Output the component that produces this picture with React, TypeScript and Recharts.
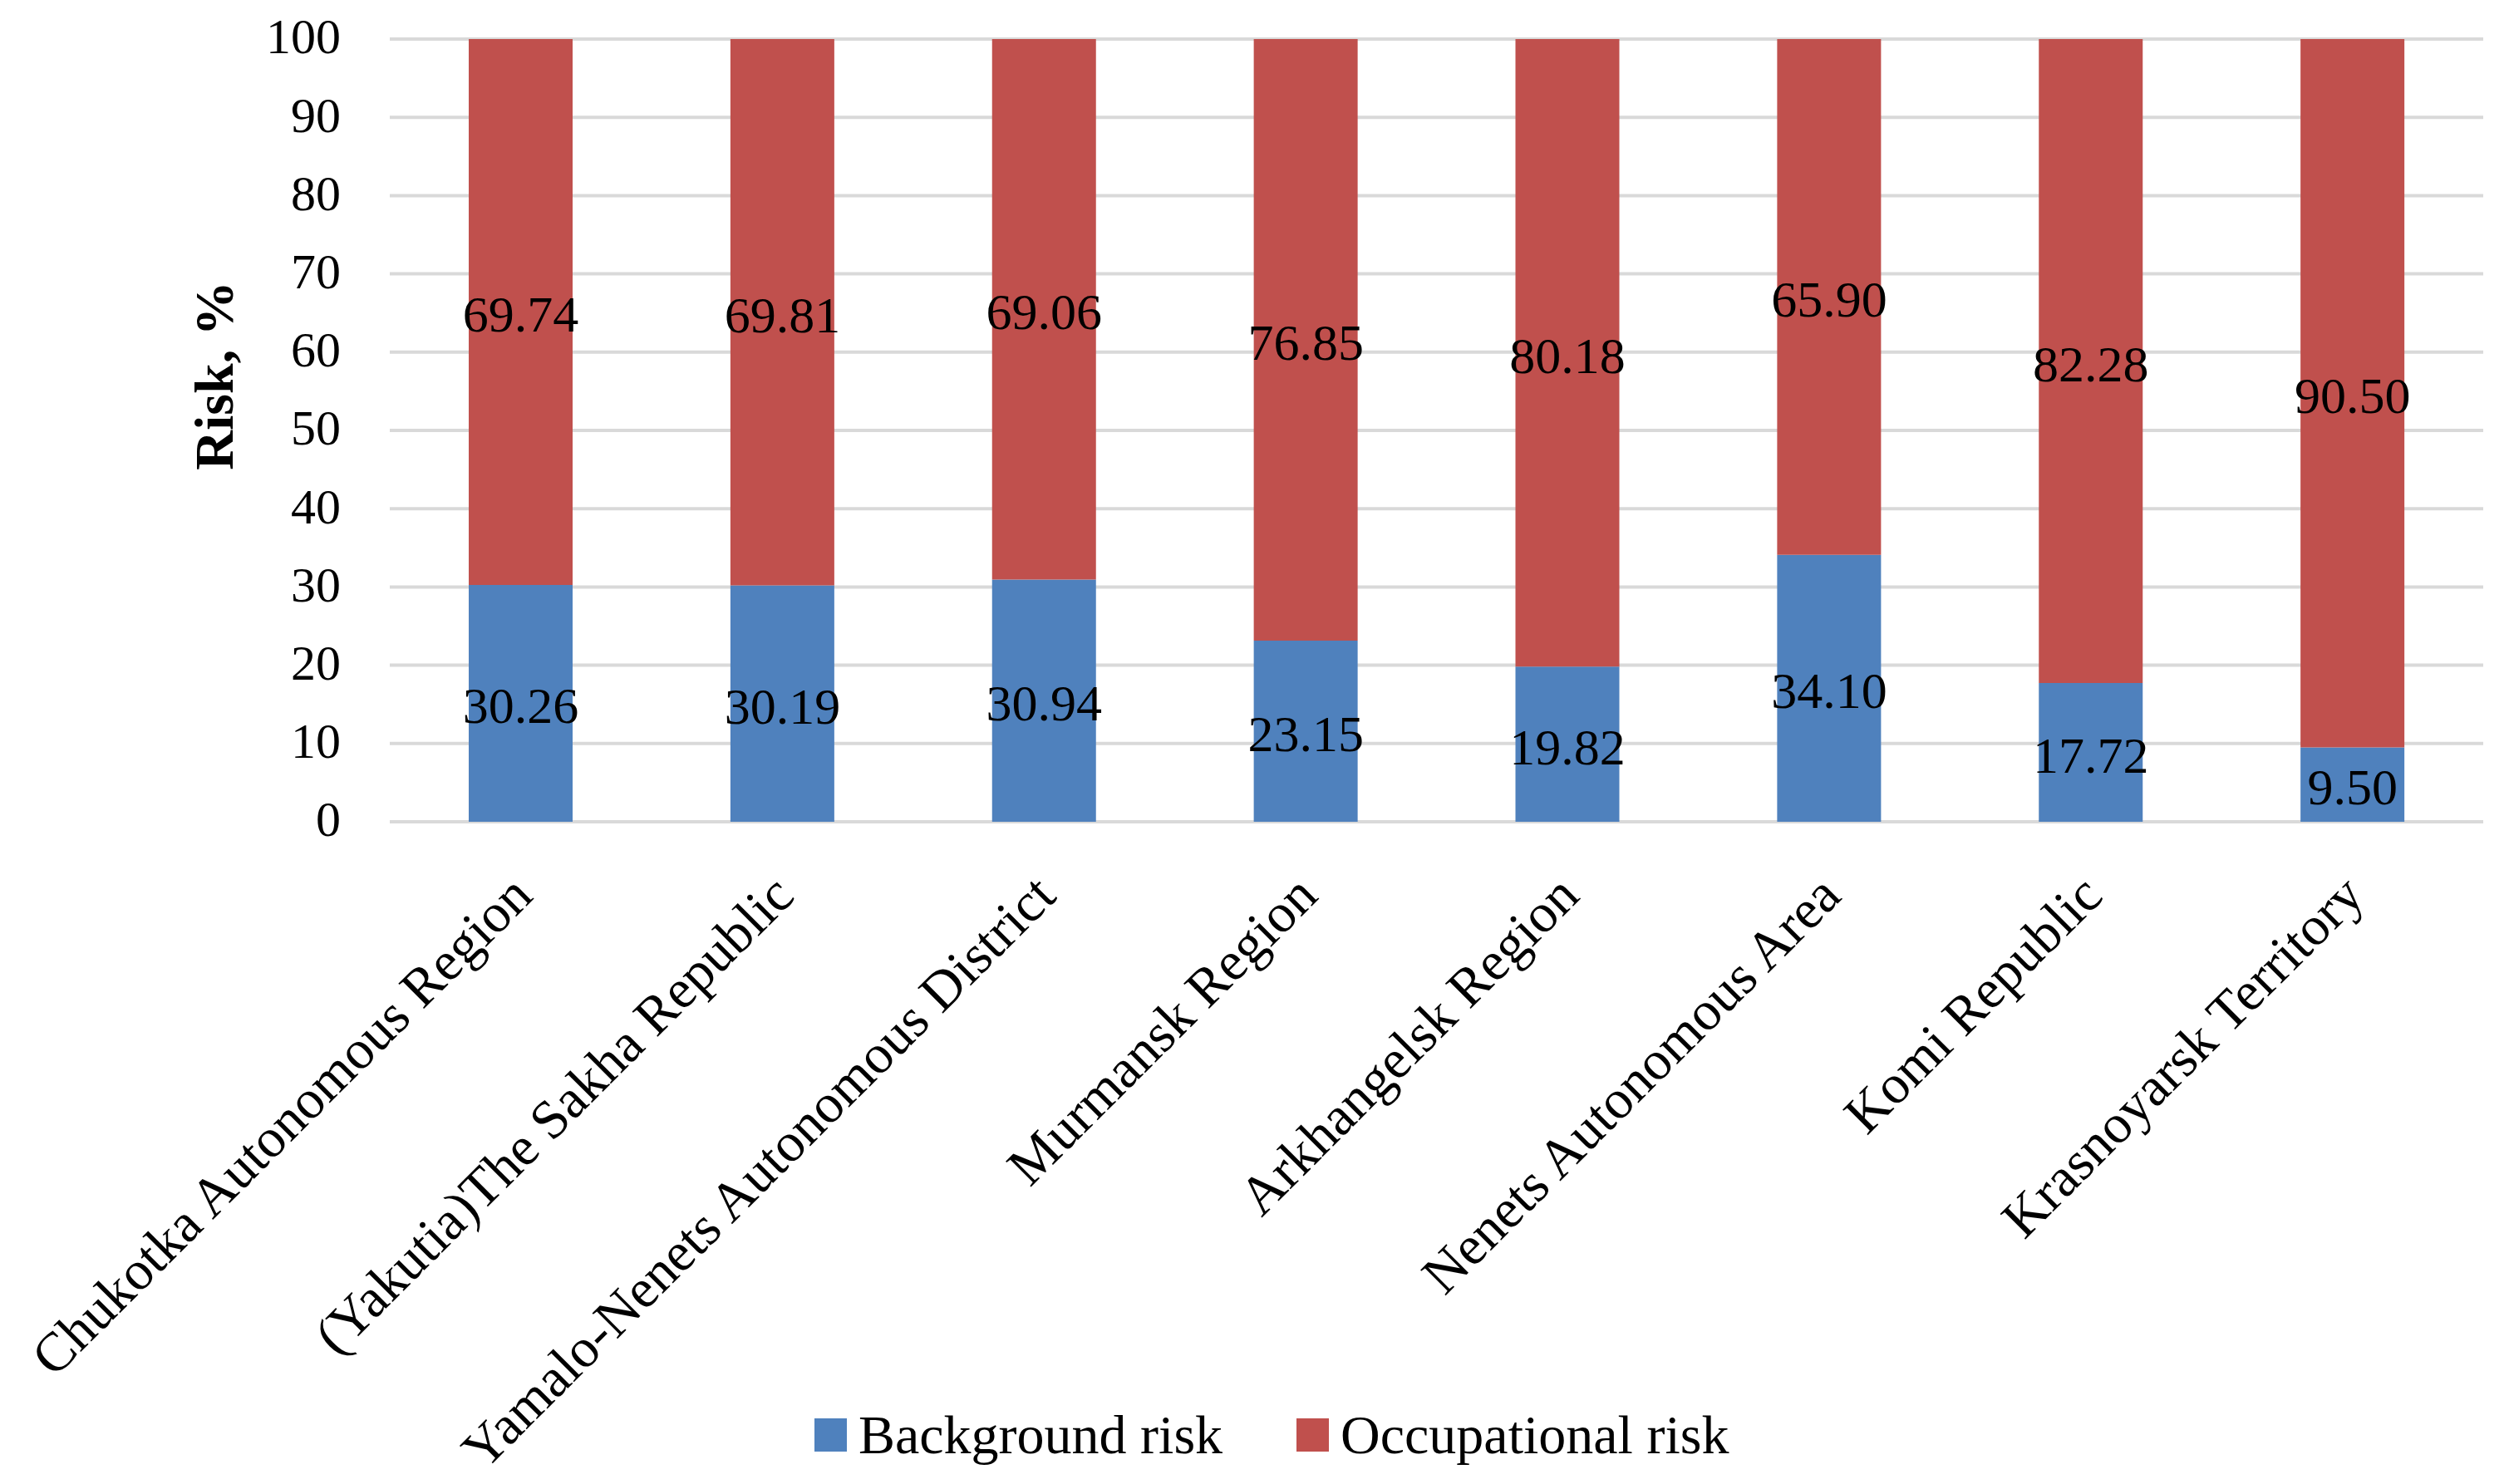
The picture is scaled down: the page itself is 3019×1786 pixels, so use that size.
import React from 'react';
import { BarChart, Bar, XAxis, YAxis, CartesianGrid, Legend, LabelList, Label } from 'recharts';

const categories = [
  'Chukotka Autonomous Region',
  '(Yakutia)The Sakha Republic',
  'Yamalo-Nenets Autonomous District',
  'Murmansk Region',
  'Arkhangelsk Region',
  'Nenets Autonomous Area',
  'Komi Republic',
  'Krasnoyarsk Territory',
];
const backgroundRisk = [30.26, 30.19, 30.94, 23.15, 19.82, 34.1, 17.72, 9.5];
const occupationalRisk = [69.74, 69.81, 69.06, 76.85, 80.18, 65.9, 82.28, 90.5];
const yTicks = [0, 10, 20, 30, 40, 50, 60, 70, 80, 90, 100];

const seriesNames = ['Background risk', 'Occupational risk'];
const BLUE = '#4F81BD';
const RED = '#C0504D';
const FONT = '"Liberation Serif", "Times New Roman", serif';

const data = categories.map((name, i) => ({
  name,
  background: backgroundRisk[i],
  occupational: occupationalRisk[i],
}));

const XTick = (props: any) => {
  const { x, y, payload } = props;
  const ax = x + 17;
  const ay = y + 92;
  return (
    <text
      x={ax}
      y={ay}
      transform={`rotate(-45, ${ax}, ${ay})`}
      textAnchor="end"
      fontSize={66}
      fontFamily={FONT}
      fill="#000"
    >
      {payload.value}
    </text>
  );
};

const YTitle = (props: any) => {
  const vb = props.viewBox || { x: 0, y: 0, width: 0, height: 0 };
  const cx = vb.x + 272;
  const cy = vb.y + vb.height / 2 - 66;
  return (
    <text
      x={cx}
      y={cy}
      transform={`rotate(-90, ${cx}, ${cy})`}
      textAnchor="middle"
      fontSize={66}
      fontWeight="bold"
      fontFamily={FONT}
      fill="#000"
    >
      Risk, %
    </text>
  );
};

const LegendContent = () => {
  const colors = [BLUE, RED];
  return (
    <div style={{ display: 'flex', alignItems: 'center', fontFamily: FONT, fontSize: 66, color: '#000', lineHeight: '73px', whiteSpace: 'nowrap' }}>
      {seriesNames.map((n, i) => (
        <div key={n} style={{ display: 'flex', alignItems: 'center', marginRight: i === 0 ? 89 : 0 }}>
          <div style={{ width: 39, height: 40, background: colors[i], marginRight: 14 }} />
          <span>{n}</span>
        </div>
      ))}
    </div>
  );
};

const fmt = (v: any) => Number(v).toFixed(2);

export default function App() {
  return (
    <div style={{ width: 3003, height: 1770, background: '#fff' }}>
      <BarChart
        width={3003}
        height={1770}
        data={data}
        margin={{ top: 39, right: 23, bottom: 0, left: 0 }}
        barSize={125}
      >
        <CartesianGrid horizontal={true} vertical={false} stroke="#d9d9d9" strokeWidth={4} />
        <XAxis
          dataKey="name"
          interval={0}
          axisLine={false}
          tickLine={false}
          tickSize={0}
          tickMargin={0}
          height={789}
          tick={<XTick />}
        />
        <YAxis
          domain={[0, 100]}
          ticks={yTicks}
          axisLine={false}
          tickLine={false}
          tickSize={0}
          tickMargin={59}
          width={461}
          tick={{ fontSize: 60, fontFamily: FONT, fill: '#000', dy: -4 }}
        >
          <Label content={<YTitle />} />
        </YAxis>
        <Legend
          layout="horizontal"
          verticalAlign="middle"
          align="center"
          content={<LegendContent />}
          wrapperStyle={{ position: 'absolute', left: 972, top: 1682, width: 1300, height: 73 }}
        />
        <Bar dataKey="background" name={seriesNames[0]} stackId="a" fill={BLUE} isAnimationActive={false}>
          <LabelList dataKey="background" position="center" formatter={fmt} fontSize={62} fontFamily={FONT} fill="#000" dy={2} />
        </Bar>
        <Bar dataKey="occupational" name={seriesNames[1]} stackId="a" fill={RED} isAnimationActive={false}>
          <LabelList dataKey="occupational" position="center" formatter={fmt} fontSize={62} fontFamily={FONT} fill="#000" dy={2} />
        </Bar>
      </BarChart>
    </div>
  );
}
